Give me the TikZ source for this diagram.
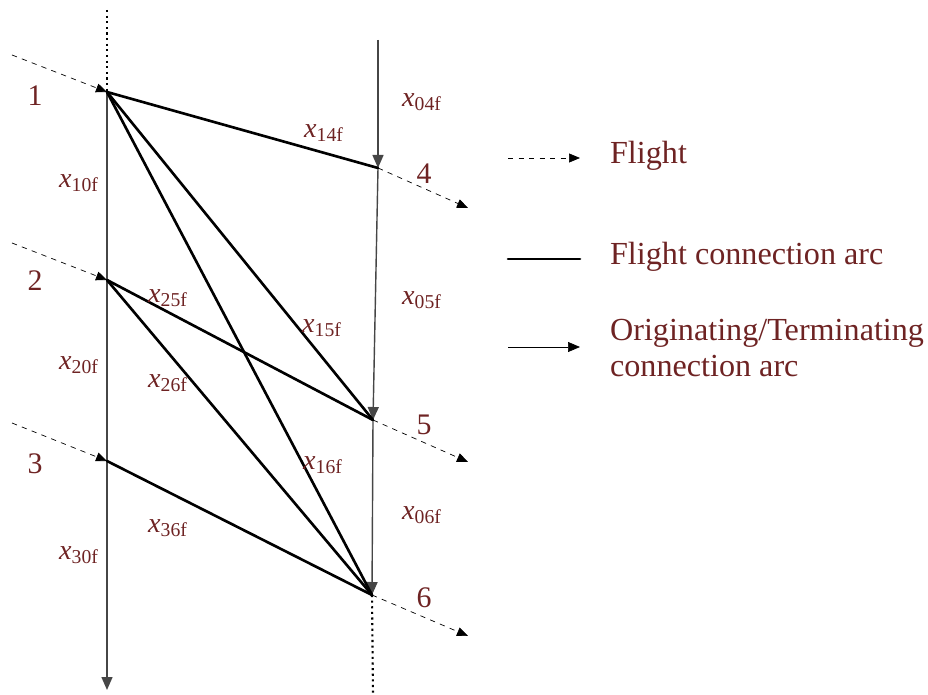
\documentclass[tikz,border=0pt]{standalone}
\usepackage{fontspec}
\setmainfont{Liberation Serif}
\usetikzlibrary{arrows.meta}
\definecolor{labred}{RGB}{110,35,35}
\newcommand{\xv}[1]{\textit{x}\textsubscript{#1}}

\begin{document}
\begin{tikzpicture}[
  x=0.02cm, y=-0.02cm,
  lab/.style   = {text=labred, font=\fontsize{16}{18}\selectfont, inner sep=1pt},
  num/.style   = {text=labred, font=\fontsize{17}{20}\selectfont, inner sep=1pt},
  legtext/.style = {text=labred, font=\fontsize{18.3}{21}\selectfont, inner sep=1pt},
  flight/.style= {dashed, thin, -{Triangle[length=2.2mm,width=1.8mm]}},
  conn/.style  = {line width=1.5pt, line cap=round},
  ot/.style    = {line width=0.8pt, gray!55!black, -{Triangle[length=2.6mm,width=2.2mm]}},
  endline/.style = {line width=1.2pt, dash pattern=on 1.2pt off 2pt}
]
\useasboundingbox (0,0) rectangle (928,695);

% event nodes
\coordinate (n1) at (107,92);
\coordinate (n2) at (107,280);
\coordinate (n3) at (107,461);
\coordinate (n4) at (378,168);
\coordinate (n5) at (373,420);
\coordinate (n6) at (372,595);

% free ends
\coordinate (top1) at (107,10);
\coordinate (bot1) at (107,690);
\coordinate (top4) at (378,40);
\coordinate (bot6) at (373,695);
\coordinate (in1) at (12,55);
\coordinate (in2) at (12,243);
\coordinate (in3) at (12,423);
\coordinate (out4) at (468,208);
\coordinate (out5) at (468,462);
\coordinate (out6) at (468,636);

% originating/terminating arcs
\draw[endline] (top1) -- (n1);
\draw[endline] (n6) -- (bot6);
\draw[ot] (n1) -- (n2) -- (n3) -- (bot1);
\draw[ot] (top4) -- (n4);
\draw[ot] (n4) -- (n5);
\draw[ot] (n5) -- (n6);

% flights
\draw[flight] (in1) -- (n1);
\draw[flight] (in2) -- (n2);
\draw[flight] (in3) -- (n3);
\draw[flight] (n4) -- (out4);
\draw[flight] (n5) -- (out5);
\draw[flight] (n6) -- (out6);

% flight connection arcs
\draw[conn] (n1) -- (n4);
\draw[conn] (n1) -- (n5);
\draw[conn] (n1) -- (n6);
\draw[conn] (n2) -- (n5);
\draw[conn] (n2) -- (n6);
\draw[conn] (n3) -- (n6);

% node numbers
\node[num] (l1) at (35,96) {1};
\node[num] (l2) at (35,281) {2};
\node[num] (l3) at (35,464) {3};
\node[num] (l4) at (424,174) {4};
\node[num] (l5) at (424,425) {5};
\node[num] (l6) at (424,598) {6};

% arc variables
\node[lab] (x10) at (79,183) {\xv{10f}};
\node[lab] (x20) at (79,365) {\xv{20f}};
\node[lab] (x30) at (79,555) {\xv{30f}};
\node[lab] (x04) at (422,102) {\xv{04f}};
\node[lab] (x05) at (422,300) {\xv{05f}};
\node[lab] (x06) at (422,515) {\xv{06f}};
\node[lab] (x14) at (324,133) {\xv{14f}};
\node[lab] (x15) at (322,328) {\xv{15f}};
\node[lab] (x16) at (323,465) {\xv{16f}};
\node[lab] (x25) at (168,298) {\xv{25f}};
\node[lab] (x26) at (168,383) {\xv{26f}};
\node[lab] (x36) at (168,528) {\xv{36f}};

% legend
\coordinate (lg1a) at (508,158);
\coordinate (lg1b) at (580,158);
\coordinate (lg2a) at (508,259);
\coordinate (lg2b) at (580,259);
\coordinate (lg3a) at (508,347);
\coordinate (lg3b) at (580,347);
\draw[flight] (lg1a) -- (lg1b);
\draw[conn] (lg2a) -- (lg2b);
\draw[thin, -{Triangle[length=2.4mm,width=2mm]}] (lg3a) -- (lg3b);
\node[legtext, anchor=west] (t1) at (608,156) {Flight};
\node[legtext, anchor=west] (t2) at (608,257) {Flight connection arc};
\node[legtext, anchor=west, align=left] (t3) at (608,348)
     {Originating/Terminating\\connection arc};

\end{tikzpicture}
\end{document}
